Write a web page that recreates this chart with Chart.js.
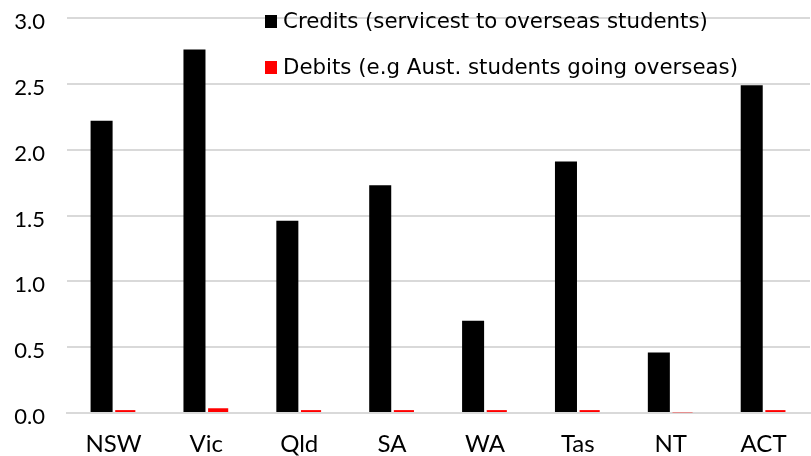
<!DOCTYPE html>
<html><head><meta charset="utf-8">
<script src="https://cdn.jsdelivr.net/npm/chart.js@4"></script>
<style>html,body{margin:0;padding:0;background:#fff}#wrap{width:811px;height:456px}</style>
</head><body><div id="wrap"><canvas id="c"></canvas></div>
<script>
const categories = ["NSW","Vic","Qld","SA","WA","Tas","NT","ACT"];
const credits = [2.22, 2.76, 1.46, 1.73, 0.70, 1.91, 0.46, 2.49];
const debits = [0.022, 0.036, 0.022, 0.022, 0.022, 0.022, 0.005, 0.022];
const seriesLabels = ["Credits (servicest to overseas students)", "Debits (e.g Aust. students going overseas)"];
const yTicks = [0, 0.5, 1.0, 1.5, 2.0, 2.5, 3.0];

const FONT = "Lato, sans-serif";
const LEGEND_FONT = "'DejaVu Sans', sans-serif";

const legendPlugin = {
  id: 'customLegend',
  afterDraw(chart) {
    const ctx = chart.ctx;
    ctx.save();
    // fit legend font so the first entry spans the same width as in the reference
    ctx.font = "20px " + LEGEND_FONT;
    const w = ctx.measureText(chart.data.datasets[0].label).width;
    const size = 20 * 425 / w;
    const baselines = [28, 74];
    chart.data.datasets.forEach((ds, i) => {
      const b = baselines[i];
      ctx.fillStyle = ds.backgroundColor;
      ctx.fillRect(265, b - 13, 12, 13);
      ctx.fillStyle = '#000';
      ctx.font = size.toFixed(2) + "px " + LEGEND_FONT;
      ctx.textBaseline = 'alphabetic';
      ctx.textAlign = 'left';
      ctx.fillText(ds.label, 283, b);
    });
    ctx.restore();
  }
};

new Chart(document.getElementById('c'), {
  type: 'bar',
  data: {
    labels: categories,
    datasets: [
      { label: seriesLabels[0], data: credits, backgroundColor: '#000000', categoryPercentage: 0.51, barPercentage: 0.93 },
      { label: seriesLabels[1], data: debits, backgroundColor: '#ff0000', categoryPercentage: 0.51, barPercentage: 0.85 }
    ]
  },
  options: {
    responsive: true,
    maintainAspectRatio: false,
    animation: false,
    layout: { padding: { left: 10, right: 1, top: 18, bottom: 0 } },
    plugins: { legend: { display: false }, tooltip: { enabled: false } },
    scales: {
      x: {
        afterFit(axis) { axis.height = 43; },
        grid: { display: false, drawTicks: false },
        border: { display: true, color: '#d9d9d9', width: 2 },
        ticks: { color: '#000', font: { family: FONT, size: 24 }, padding: 17 }
      },
      y: {
        min: 0, max: 3,
        afterBuildTicks(axis) { axis.ticks = yTicks.map(v => ({ value: v })); },
        afterFit(axis) { axis.width = 57; axis.paddingTop = 0; axis.paddingBottom = 0; },
        grid: { color: '#d9d9d9', lineWidth: 2, drawTicks: false },
        border: { display: false },
        ticks: { color: '#000', font: { family: FONT, size: 22 }, padding: 22, labelOffset: 4,
          callback: v => Number(v).toFixed(1) }
      }
    }
  },
  plugins: [legendPlugin]
});
</script></body></html>
